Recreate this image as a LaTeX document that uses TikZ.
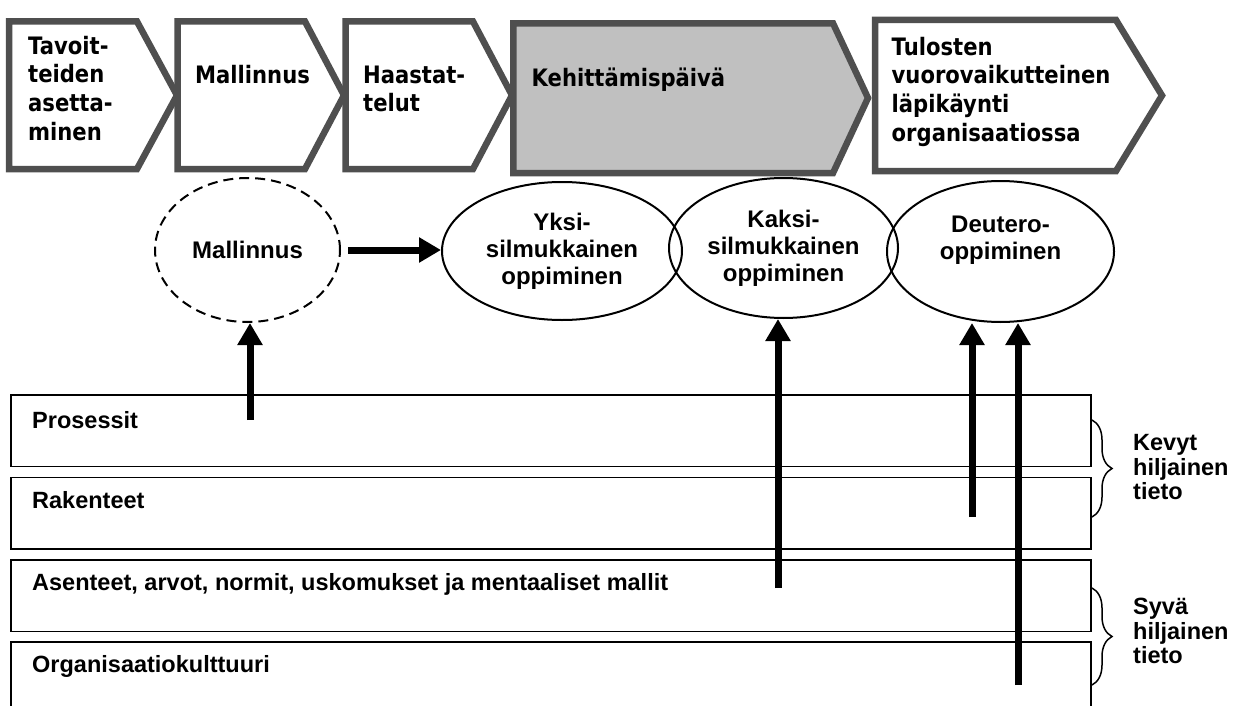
\documentclass[tikz,border=0pt]{standalone}
\usepackage{fontspec}
\setmainfont{Liberation Sans}
\newfontfamily\chevfont{DejaVu Sans}[FakeStretch=0.88]
\usetikzlibrary{arrows.meta,shapes.geometric,decorations.pathreplacing,calc}

\definecolor{chevline}{HTML}{4F4F4F}
\definecolor{chevfill}{HTML}{C0C0C0}

\begin{document}
\begin{tikzpicture}[x=1pt,y=-1pt,
  chevron/.style={draw=chevline, line width=6.5pt, line join=miter, fill=white},
  chevtext/.style={anchor=north west, inner sep=0pt, align=left,
    font=\chevfont\bfseries\fontsize{24}{28.7}\selectfont},
  learn/.style={ellipse, draw, line width=2pt, inner sep=0pt, align=center,
    font=\bfseries\fontsize{24}{27}\selectfont},
  layer/.style={draw, line width=1.8pt, anchor=north west, minimum width=1080pt,
    minimum height=71.5pt, inner sep=0pt},
  layertext/.style={anchor=base west, inner sep=0pt, font=\bfseries\fontsize{23.5}{27}\selectfont},
  bigarrow/.style={line width=7pt, -{Triangle[width=24pt,length=22pt]}},
  bracetext/.style={anchor=west, inner sep=0pt, align=left,
    font=\bfseries\fontsize{23.5}{24.5}\selectfont},
  tacitbrace/.style={decorate, decoration={brace, amplitude=20pt}, line width=1.5pt},
]
\useasboundingbox (0,0) rectangle (1234,706);

% process phases
\draw[chevron] (9,21.5) -- (137,21.5) -- (177,95.3) -- (137,169) -- (9,169) -- cycle;
\draw[chevron] (177.5,21.5) -- (305,21.5) -- (344,95.3) -- (305,169) -- (177.5,169) -- cycle;
\draw[chevron] (345.5,21.5) -- (473,21.5) -- (512,95.3) -- (473,169) -- (345.5,169) -- cycle;
\draw[chevron, fill=chevfill] (513.3,23.3) -- (833,23.3) -- (868,98) -- (833,173) -- (513.3,173) -- cycle;
\draw[chevron] (875,20) -- (1116,20) -- (1162,95.5) -- (1116,171) -- (875,171) -- cycle;

\node[chevtext] (ph1) at (28,35.8) {Tavoit-\\teiden\\asetta-\\minen};
\node[chevtext] (ph2) at (195,64.8) {Mallinnus};
\node[chevtext] (ph3) at (363,65.5) {Haastat-\\telut};
\node[chevtext] (ph4) at (531.5,67.8) {Kehittämispäivä};
\node[chevtext] (ph5) at (891.5,36.8) {Tulosten\\vuorovaikutteinen\\läpikäynti\\organisaatiossa};

% knowledge layers
\node[layer] (l1) at (10,394) {};
\node[layer] (l2) at (10,476.5) {};
\node[layer] (l3) at (10,559) {};
\node[layer, minimum height=90pt] (l4) at (10,641) {};
\node[layertext] (l1t) at ($(l1.north west)+(22,34)$) {Prosessit};
\node[layertext] (l2t) at ($(l2.north west)+(22,32)$) {Rakenteet};
\node[layertext] (l3t) at ($(l3.north west)+(22,31)$) {Asenteet, arvot, normit, uskomukset ja mentaaliset mallit};
\node[layertext] (l4t) at ($(l4.north west)+(22,31)$) {Organisaatiokulttuuri};

% learning levels
\node[learn, dash pattern=on 10pt off 6pt, minimum width=185pt, minimum height=144pt] (mall) at (247.5,250) {Mallinnus};
\node[learn, minimum width=240pt, minimum height=138pt] (yksi) at (562,251) {Yksi-\\silmukkainen\\oppiminen};
\node[learn, minimum width=229pt, minimum height=140pt] (kaksi) at (783.5,248) {Kaksi-\\silmukkainen\\oppiminen};
\node[learn, minimum width=227pt, minimum height=141pt] (deut) at (1000.5,251.5) {Deutero-\\oppiminen\\\mbox{}};

% arrows
\coordinate (a1) at (250,420);
\coordinate (a2) at (778,588);
\coordinate (a3) at (972,517);
\coordinate (a4) at (1018,685);
\draw[bigarrow] (a1) -- (a1 |- mall.south);
\draw[bigarrow] (a2) -- (a2 |- kaksi.south);
\draw[bigarrow] (a3) -- (a3 |- deut.south);
\draw[bigarrow] (a4) -- (a4 |- deut.south);
\draw[bigarrow, shorten <=7pt] (mall.east) -- (mall.east -| yksi.west);

% tacit knowledge braces
\coordinate (b1s) at (1092,420);
\coordinate (b1e) at (1092,517);
\coordinate (b2s) at (1092,588);
\coordinate (b2e) at (1092,685);
\draw[tacitbrace] (b1s) -- (b1e);
\draw[tacitbrace] (b2s) -- (b2e);
\node[bracetext] (kevyt) at (1133,467.5) {Kevyt\\hiljainen\\tieto};
\node[bracetext] (syva) at (1133,631) {Syvä\\hiljainen\\tieto};
\end{tikzpicture}
\end{document}
